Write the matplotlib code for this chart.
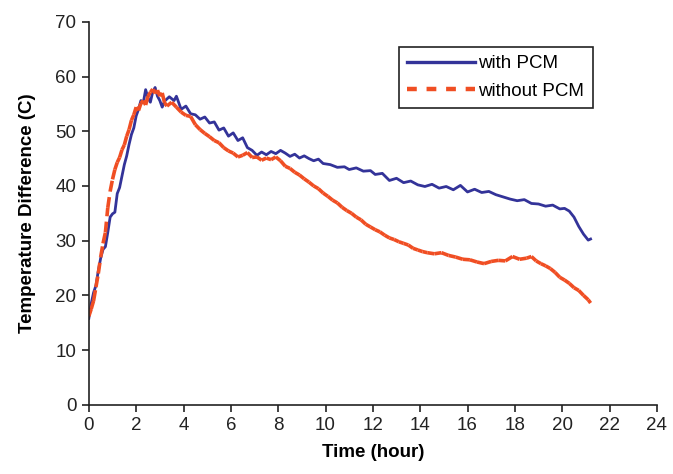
import matplotlib.pyplot as plt
from matplotlib.collections import LineCollection
from matplotlib.lines import Line2D
import numpy as np

plt.rcParams['font.family'] = ['Liberation Sans', 'DejaVu Sans']

# with PCM
blue_t = [0.0, 0.1, 0.2, 0.3, 0.4, 0.5, 0.6, 0.7, 0.8, 0.9, 1.0, 1.1, 1.2, 1.3, 1.4,
          1.5, 1.6, 1.7, 1.8, 1.9, 2.0, 2.1, 2.2, 2.3, 2.4, 2.5, 2.6, 2.7, 2.8, 2.9,
          3.0, 3.1, 3.2, 3.4, 3.6, 3.7, 3.9, 4.1, 4.3, 4.5, 4.7, 4.9, 5.1, 5.3, 5.5,
          5.7, 5.9, 6.1, 6.3, 6.5, 6.7, 6.9, 7.1, 7.3, 7.5, 7.7, 7.9, 8.1, 8.3, 8.5,
          8.7, 8.9, 9.1, 9.3, 9.5, 9.7, 9.9, 10.2, 10.5, 10.8, 11.0, 11.3, 11.6, 11.9,
          12.1, 12.4, 12.7, 13.0, 13.3, 13.6, 13.9, 14.2, 14.5, 14.8, 15.1, 15.4, 15.7,
          16.0, 16.3, 16.6, 16.9, 17.2, 17.5, 17.8, 18.1, 18.4, 18.7, 19.0, 19.3, 19.6,
          19.9, 20.1, 20.3, 20.5, 20.7, 20.9, 21.1, 21.2]
blue_v = [15.8, 18.5, 20.5, 21.8, 24.5, 26.8, 28.4, 28.9, 31.5, 34.3, 34.9, 35.2, 38.6, 39.7, 41.8,
          43.9, 45.5, 47.6, 49.4, 50.6, 52.8, 54.0, 55.6, 55.2, 57.6, 56.1, 55.3, 57.2, 58.0, 56.4,
          55.6, 54.4, 55.5, 56.3, 55.6, 56.4, 54.0, 54.6, 53.2, 53.0, 52.2, 52.6, 51.5, 51.7, 50.2,
          50.6, 49.1, 49.7, 48.3, 48.8, 47.0, 46.5, 45.6, 46.2, 45.7, 46.3, 45.9, 46.5, 46.0, 45.4,
          45.8, 45.1, 45.5, 45.0, 44.6, 44.9, 44.1, 43.9, 43.4, 43.5, 43.0, 43.3, 42.7, 42.8,
          42.1, 42.3, 41.0, 41.4, 40.6, 40.9, 40.2, 39.9, 40.3, 39.6, 39.9, 39.3, 40.1,
          38.9, 39.4, 38.8, 39.0, 38.4, 38.0, 37.6, 37.3, 37.5, 36.8, 36.7, 36.3, 36.5,
          35.8, 35.9, 35.4, 34.3, 32.6, 31.2, 30.1, 30.3]

# without PCM
red_t = [0.0, 0.1, 0.2, 0.3, 0.4, 0.5, 0.6, 0.7, 0.8, 0.9, 1.0, 1.1, 1.2, 1.3, 1.4,
         1.5, 1.6, 1.7, 1.8, 1.9, 2.0, 2.1, 2.2, 2.3, 2.4, 2.5, 2.6, 2.7, 2.8, 2.9,
         3.0, 3.1, 3.2, 3.3, 3.5, 3.7, 3.9, 4.1, 4.3, 4.5, 4.7, 4.9, 5.1, 5.3, 5.5,
         5.7, 5.9, 6.1, 6.3, 6.5, 6.7, 6.9, 7.1, 7.3, 7.5, 7.7, 7.9, 8.1, 8.3, 8.5,
         8.7, 8.9, 9.1, 9.3, 9.5, 9.7, 9.9, 10.1, 10.3, 10.5, 10.7, 10.9, 11.1, 11.3,
         11.5, 11.7, 11.9, 12.1, 12.3, 12.5, 12.7, 12.9, 13.1, 13.3, 13.5, 13.7, 13.9,
         14.1, 14.3, 14.6, 14.9, 15.2, 15.5, 15.8, 16.1, 16.4, 16.7, 17.0, 17.3, 17.6,
         17.9, 18.2, 18.5, 18.7, 18.9, 19.1, 19.3, 19.5, 19.7, 19.9, 20.1, 20.3, 20.5,
         20.7, 20.9, 21.1, 21.2]
red_v = [16.2, 17.5, 19.0, 21.5, 24.0, 27.0, 29.5, 31.5, 36.0, 39.0, 41.2, 43.0, 44.3, 45.2, 46.6,
         47.5, 49.1, 50.3, 52.0, 53.0, 54.4, 53.8, 55.1, 55.6, 54.8, 56.4, 57.1, 57.7, 56.9, 57.5,
         56.4, 57.0, 55.2, 54.6, 55.3, 54.4, 53.5, 52.9, 52.7, 51.2, 50.3, 49.6, 49.0, 48.3, 47.9,
         47.0, 46.4, 46.0, 45.3, 45.6, 46.1, 45.2, 45.3, 44.7, 45.1, 44.8, 45.3, 44.6, 43.6, 43.2,
         42.5, 42.0, 41.3, 40.7, 40.0, 39.5, 38.7, 38.1, 37.4, 36.9, 36.1, 35.5, 35.0, 34.3,
         33.8, 33.0, 32.5, 32.0, 31.6, 31.0, 30.5, 30.2, 29.8, 29.5, 29.2, 28.6, 28.3,
         28.0, 27.8, 27.6, 27.8, 27.3, 27.0, 26.6, 26.5, 26.1, 25.8, 26.2, 26.4, 26.3,
         27.1, 26.6, 26.8, 27.1, 26.3, 25.8, 25.4, 24.9, 24.2, 23.3, 22.8, 22.2, 21.4,
         20.9, 20.0, 19.2, 18.6]

blue = '#333399'
red = '#f04e23'

fig = plt.figure(figsize=(6.73, 4.74), dpi=100)
ax = fig.add_axes([0.132, 0.146, 0.844, 0.808])

ax.plot(blue_t, blue_v, color=blue, linewidth=2.0)

# dashed line, pattern restarting on every segment (like the spreadsheet original)
pts = np.column_stack([red_t, red_v])
segs = np.stack([pts[:-1], pts[1:]], axis=1)
lc = LineCollection(segs, colors=red, linewidths=2.6, linestyles=[(0, (3, 1.5))],
                    capstyle='butt')
ax.add_collection(lc)

ax.set_xlim(0, 24)
ax.set_ylim(0, 70)
ax.set_xticks(range(0, 25, 2))
ax.set_yticks(range(0, 71, 10))
for s in ['top', 'right']:
    ax.spines[s].set_visible(False)
for s in ['left', 'bottom']:
    ax.spines[s].set_linewidth(1.2)
    ax.spines[s].set_color('#222222')
ax.tick_params(direction='out', length=5, width=1.2, labelsize=13.5, colors='#222222', pad=4)

ax.set_xlabel('Time (hour)', fontsize=13.5, fontweight='bold', labelpad=7)
ax.set_ylabel('Temperature Difference (C)', fontsize=13.5, fontweight='bold', labelpad=14)

handles = [Line2D([], [], color=blue, linewidth=2.4),
           Line2D([], [], color=red, linewidth=3.2, dashes=(2.2, 2.2))]
leg = ax.legend(handles, ['with PCM', 'without PCM'], loc='upper right',
                bbox_to_anchor=(0.887, 0.935), fontsize=13.5, fancybox=False,
                framealpha=1, edgecolor='#222222', handlelength=3.6,
                handletextpad=0.2, borderpad=0.45, labelspacing=0.55,
                borderaxespad=0)
leg.get_frame().set_linewidth(1.2)

fig.savefig('out.png', dpi=100)
